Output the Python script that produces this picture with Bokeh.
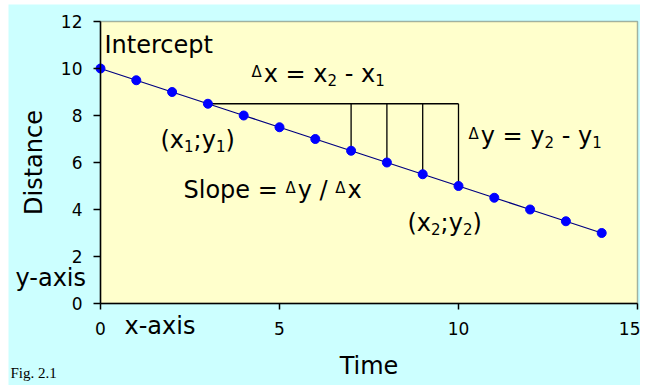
from bokeh.plotting import figure
from bokeh.models import Range1d, Label, FixedTicker, BoxAnnotation
from bokeh.embed import file_html
from bokeh.resources import INLINE

# Distance falls by 0.5 for every unit of time, starting at the intercept 10
time = [0, 1, 2, 3, 4, 5, 6, 7, 8, 9, 10, 11, 12, 13, 14]
distance = [10.0, 9.5, 9.0, 8.5, 8.0, 7.5, 7.0, 6.5, 6.0, 5.5, 5.0, 4.5, 4.0, 3.5, 3.0]

# Slope construction: the start point (x1;y1) and the drops down to the line
x1 = 3
y1 = 8.5
x2_marks = [7, 8, 9, 10]
y2_marks = [6.5, 6.0, 5.5, 5.0]

x_ticks = [0, 5, 10, 15]
y_ticks = [0, 2, 4, 6, 8, 10, 12]
x_lim = (0, 15)
y_lim = (0, 12)

FONT = "DejaVu Sans"

# page layout (pixels): white margin, canvas size, plot-area corners
ML, MT, MR = 8, 4, 5
W, H = 632, 381
PX0, PX1 = 100.0, 637.0          # plot area left / right
PY0, PY1 = 303.0, 21.0           # plot area bottom / top
SX = (PX1 - PX0) / (x_lim[1] - x_lim[0])
SY = (PY0 - PY1) / (y_lim[1] - y_lim[0])


def to_x(px):
    return x_lim[0] + (px - PX0) / SX


def to_y(py):
    return y_lim[0] + (PY0 - py) / SY


# the frame fills the whole canvas so that every text can sit anywhere on it
p = figure(
    width=W, height=H, title=None,
    x_range=Range1d(to_x(ML), to_x(ML + W)),
    y_range=Range1d(to_y(MT + H), to_y(MT)),
    output_backend="svg", toolbar_location=None,
    min_border=0,
    background_fill_color="#CCFFFF", border_fill_color="#CCFFFF",
    outline_line_color=None,
    margin=(MT, MR, 0, ML),
)
p.grid.visible = False

# plot area
p.add_layout(BoxAnnotation(
    left=x_lim[0], right=x_lim[1], bottom=y_lim[0], top=y_lim[1],
    fill_color="#FFFFCC", fill_alpha=1.0, line_color="black", line_width=1.5,
    level="underlay",
))

p.xaxis.ticker = FixedTicker(ticks=x_ticks)
p.yaxis.ticker = FixedTicker(ticks=y_ticks)
p.xaxis.fixed_location = y_lim[0]
p.yaxis.fixed_location = x_lim[0]
p.xaxis.bounds = x_lim
p.yaxis.bounds = y_lim
for ax, tick_out, std in ((p.xaxis, 6, 12), (p.yaxis, 7, 11)):
    ax.major_tick_in = 0
    ax.major_tick_out = tick_out
    ax.minor_tick_in = 0
    ax.minor_tick_out = 0
    ax.axis_line_color = "black"
    ax.axis_line_width = 1.5
    ax.major_tick_line_color = "black"
    ax.major_tick_line_width = 1.5
    ax.major_label_text_font = FONT
    ax.major_label_text_font_size = "17px"
    ax.major_label_text_color = "black"
    ax.major_label_standoff = std
    ax.axis_label_text_font = FONT
    ax.axis_label_text_font_size = "24px"
    ax.axis_label_text_font_style = "normal"
    ax.axis_label_text_color = "black"
p.xaxis.axis_label = "Time"
p.yaxis.axis_label = "Distance"
p.xaxis.axis_label_standoff = 14
p.yaxis.axis_label_standoff = 10

# Δx bracket along y1 and the Δy drops to the line
p.segment(x0=[x1], y0=[y1], x1=[x2_marks[-1]], y1=[y1], line_color="black", line_width=1.3)
p.segment(x0=x2_marks, y0=[y1] * len(x2_marks), x1=x2_marks, y1=y2_marks,
          line_color="black", line_width=1.3)

p.line(time, distance, line_color="#000080", line_width=1.3)
p.scatter(time, distance, size=9, fill_color="#0000FF", line_color="#0000FF")

# --- annotations -----------------------------------------------------------
# DejaVu Sans advance widths (em)
ADV = {
    " ": 0.318, "\u00a0": 0.318, "(": 0.390, ")": 0.390, ";": 0.337,
    "=": 0.838, "-": 0.361, "/": 0.337, "x": 0.592, "y": 0.592, "S": 0.635,
    "l": 0.278, "o": 0.612, "p": 0.635, "e": 0.615, "1": 0.636, "2": 0.636,
    "\u0394": 0.684,
}


def run(left, base, parts, size=24, font=FONT):
    """Draw a line of text made of normal (n), subscript (s) and delta (d) pieces."""
    x = left
    for text, kind in parts:
        if kind == "s":
            fs, dy, gap = 15, 6, 0
        elif kind == "d":
            fs, dy, gap = 15, -2, 2
        else:
            fs, dy, gap = size, 0, 0
        text = text.replace(" ", "\u00a0")
        p.add_layout(Label(
            x=to_x(x), y=to_y(base + dy), text=text,
            text_font=font, text_font_size=f"{fs}px", text_color="black",
            text_align="left", text_baseline="alphabetic",
        ))
        x += sum(ADV.get(c, 0.6) for c in text) * fs + gap


D = "\u0394"
run(104, 44, [("Intercept", "n")])
run(251, 73, [(D, "d"), ("x = x", "n"), ("2", "s"), (" - x", "n"), ("1", "s")])
run(160, 139, [("(x", "n"), ("1", "s"), (";y", "n"), ("1", "s"), (")", "n")])
run(468, 135, [(D, "d"), ("y = y", "n"), ("2", "s"), (" - y", "n"), ("1", "s")])
run(183, 189, [("Slope = ", "n"), (D, "d"), ("y / ", "n"), (D, "d"), ("x", "n")])
run(407, 222, [("(x", "n"), ("2", "s"), (";y", "n"), ("2", "s"), (")", "n")])
run(15, 277, [("y-axis", "n")])
run(124, 325, [("x-axis", "n")])
run(10, 372, [("Fig. 2.1", "n")], size=15, font="Liberation Serif")

open("out.html", "w").write(file_html(p, INLINE))
